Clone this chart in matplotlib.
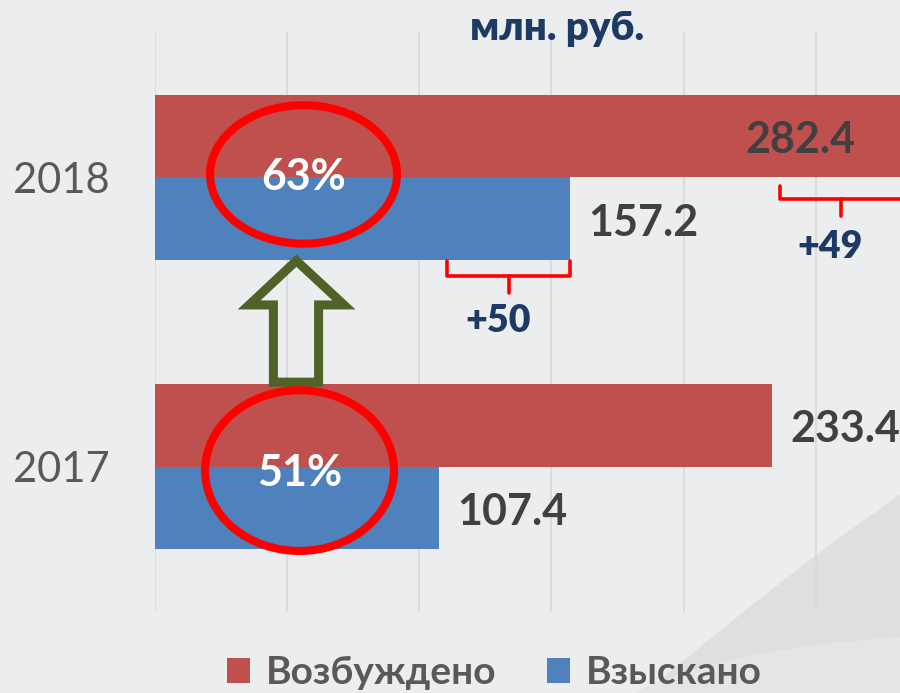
import numpy as np
import matplotlib
matplotlib.use('Agg')
import matplotlib.pyplot as plt
from matplotlib.patches import Ellipse, Polygon, Patch, PathPatch
from matplotlib.path import Path

plt.rcParams['font.family'] = ['Lato', 'Open Sans', 'DejaVu Sans']

# Data
years = ['2017', '2018']
vozbuzhdeno = [233.4, 282.4]   # red
vzyskano = [107.4, 157.2]      # blue
shares = ['51%', '63%']
series_names = ['Возбуждено', 'Взыскано']
unit_title = 'млн. руб.'

red = '#C0504D'
blue = '#4F81BD'
bg = '#ECEDEF'
navy = '#1C3A64'
label_gray = '#404040'

fig = plt.figure(figsize=(9, 6.93), dpi=100)
fig.patch.set_facecolor(bg)

# decorative swoosh in the lower right corner (figure pixel coords -> fractions)
W, H = 900.0, 693.0
def fp(x, y):
    return (x / W, 1 - y / H)

verts = [fp(645, 693), fp(790, 570), fp(900, 495), fp(900, 637),
         fp(720, 650), fp(635, 693), fp(645, 693)]
codes = [Path.MOVETO, Path.CURVE3, Path.CURVE3, Path.LINETO,
         Path.CURVE3, Path.CURVE3, Path.CLOSEPOLY]
fig.add_artist(PathPatch(Path(verts, codes), facecolor='#DEDFE1', edgecolor='none',
                         transform=fig.transFigure, zorder=-5))
verts2 = [fp(635, 693), fp(720, 650), fp(900, 637), fp(900, 693), fp(635, 693)]
codes2 = [Path.MOVETO, Path.CURVE3, Path.CURVE3, Path.LINETO, Path.CLOSEPOLY]
fig.add_artist(PathPatch(Path(verts2, codes2), facecolor='#E4E5E7', edgecolor='none',
                         transform=fig.transFigure, zorder=-5))

ax = fig.add_axes([155 / W, 1 - 612 / H, 1 - 155 / W, (612 - 32) / H])
ax.set_facecolor('none')

pos = np.arange(len(years))
h = 0.2865
ax.barh(pos + h / 2, vozbuzhdeno, height=h, color=red, zorder=2)
ax.barh(pos - h / 2, vzyskano, height=h, color=blue, zorder=2)

ax.set_xlim(0, 281.9)
ax.set_ylim(-0.503, 1.503)
ax.set_xticks(np.arange(0, 251, 50))
ax.set_xticklabels([])
ax.tick_params(axis='x', length=0)
ax.tick_params(axis='y', length=0, pad=33, labelsize=30, labelcolor='#595959')
ax.set_yticks(pos)
ax.set_yticklabels(years)
ax.grid(axis='x', color='#D9D9D9', lw=1.2, zorder=0)
ax.set_axisbelow(True)
for s in ax.spines.values():
    s.set_visible(False)

# value labels
lab_kw = dict(textcoords='offset points', va='center', fontsize=31,
              fontweight='bold', color=label_gray, zorder=5, annotation_clip=False)
for i in range(len(years)):
    ax.annotate(f'{vzyskano[i]:.1f}', (vzyskano[i], pos[i] - h / 2),
                xytext=(13, -3), ha='left', **lab_kw)
# red labels: outside for 2017, inside end for 2018
ax.annotate(f'{vozbuzhdeno[0]:.1f}', (vozbuzhdeno[0], pos[0] + h / 2),
            xytext=(13, -3), ha='left', **lab_kw)
ax.annotate(f'{vozbuzhdeno[1]:.1f}', (vozbuzhdeno[1], pos[1] + h / 2),
            xytext=(-33, -3), ha='right', **lab_kw)

# red ellipses with share percentages
ell_specs = [(54.7, -0.0139, 71.5, 0.556), (56.2, 1.0104, 70.75, 0.479)]
for (cx, cy, w, hh), txt in zip(ell_specs, shares):
    ax.add_patch(Ellipse((cx, cy), w, hh, fill=False, edgecolor='#FF0000',
                         lw=5.8, zorder=6))
    ax.annotate(txt, (cx, cy), xytext=(0, -2), textcoords='offset points',
                ha='center', va='center', fontsize=31,
                fontweight='bold', color='white', zorder=7)

# hollow up arrow
arrow = [(44.8, 0.292), (44.8, 0.559), (35.6, 0.559), (53.5, 0.712),
         (71.5, 0.559), (61.9, 0.559), (61.9, 0.292)]
ax.add_patch(Polygon(arrow, closed=True, fill=False, edgecolor='#4F6228',
                     lw=6.5, joinstyle='miter', zorder=4))

# brackets with increments
def bracket(x0, x1, ytop, ymid, ybot, text_y, diff):
    xm = (x0 + x1) / 2
    ax.plot([x0, x0, x1, x1], [ytop, ymid, ymid, ytop], color='#FF0000',
            lw=2.6, solid_joinstyle='round', solid_capstyle='round', zorder=6,
            clip_on=False)
    ax.plot([xm, xm], [ymid, ybot], color='#FF0000', lw=2.6,
            solid_capstyle='round', zorder=6)
    ax.text(xm - 4, text_y, f'+{round(diff)}', ha='center', va='center',
            fontsize=27, fontweight='heavy', color=navy, zorder=7)

bracket(vzyskano[0] + 3, vzyskano[1], 0.712, 0.660, 0.601, 0.505,
        vzyskano[1] - vzyskano[0])
bracket(vozbuzhdeno[0] + 3, vozbuzhdeno[1], 0.972, 0.924, 0.868, 0.760,
        vozbuzhdeno[1] - vozbuzhdeno[0])

# unit title
fig.text(557 / W, 1 - 40 / H, unit_title, ha='center', va='baseline',
         fontsize=29, fontweight='heavy', color=navy)

# legend
handles = [Patch(facecolor=red), Patch(facecolor=blue)]
leg = fig.legend(handles, series_names, loc='center', ncol=2, frameon=False,
                 bbox_to_anchor=(494 / W, 1 - 673 / H), fontsize=28,
                 handlelength=0.6, handleheight=0.6, handletextpad=0.4,
                 columnspacing=1.3)
for t in leg.get_texts():
    t.set_color('#595959')
    t.set_fontweight('bold')

fig.savefig('out.png', dpi=100, facecolor=bg)
